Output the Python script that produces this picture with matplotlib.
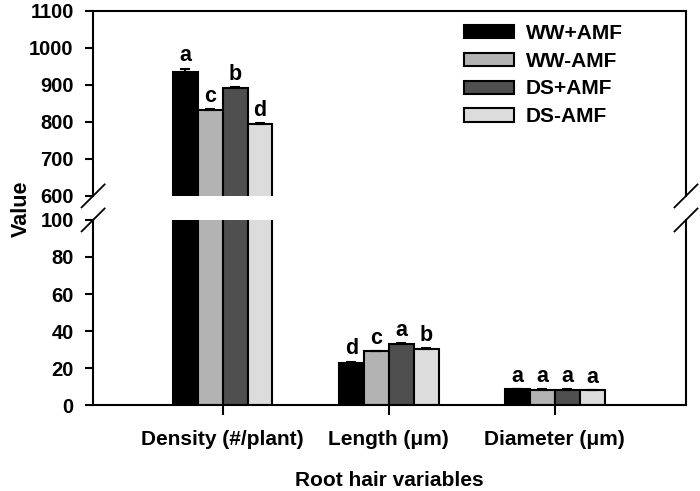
import numpy as np
import matplotlib.pyplot as plt
from matplotlib.patches import Patch

plt.rcParams['font.family'] = ['Liberation Sans', 'DejaVu Sans']
plt.rcParams['font.weight'] = 'bold'

# dados
categorias = ["Density (#/plant)", "Length (\u03bcm)", "Diameter (\u03bcm)"]
tratamentos = ["WW+AMF", "WW-AMF", "DS+AMF", "DS-AMF"]
cores = ["#000000", "#b3b3b3", "#4f4f4f", "#dcdcdc"]

ww_amf = [935, 23, 8.6]
ww_namf = [831, 29, 8.2]
ds_amf = [891, 33, 8.2]
ds_namf = [793, 30.5, 8.0]

ww_amf_err = [9, 0.5, 0.3]
ww_namf_err = [4, 0.4, 0.3]
ds_amf_err = [4, 0.4, 0.3]
ds_namf_err = [3, 0.4, 0.3]

letras = [["a", "d", "a"], ["c", "c", "a"], ["b", "a", "a"], ["d", "b", "a"]]

valores = [ww_amf, ww_namf, ds_amf, ds_namf]
erros = [ww_amf_err, ww_namf_err, ds_amf_err, ds_namf_err]

fig = plt.figure(figsize=(7, 4.91), dpi=100)
ax_top = fig.add_axes([0.133, 0.601, 0.847, 0.377])
ax_bot = fig.add_axes([0.133, 0.175, 0.847, 0.377])

x = np.arange(len(categorias))
largura = 0.15

for ax in (ax_top, ax_bot):
    for i, (vals, errs) in enumerate(zip(valores, erros)):
        pos = x + (i - 1.5) * largura
        ax.bar(pos, vals, largura, color=cores[i], edgecolor="black",
               linewidth=1.5, label=tratamentos[i], zorder=2)
        ax.errorbar(pos, vals, yerr=[np.zeros(len(errs)), errs], fmt="none",
                    ecolor="black", elinewidth=1.5, capsize=3.5, capthick=1.5, zorder=3)
    ax.set_xlim(-0.78, 2.79)
    for s in ax.spines.values():
        s.set_linewidth(1.5)
    ax.tick_params(axis="y", direction="out", length=6, width=1.5, labelsize=14.5,
                   right=False, pad=8)

ax_top.set_ylim(600, 1100)
ax_top.set_yticks(np.arange(600, 1101, 100))
ax_top.spines["bottom"].set_visible(False)
ax_top.tick_params(axis="x", bottom=False, labelbottom=False)

ax_bot.set_ylim(0, 100)
ax_bot.set_yticks(np.arange(0, 101, 20))
ax_bot.spines["top"].set_visible(False)
ax_bot.set_xticks(x)
ax_bot.set_xticklabels(categorias, fontsize=15, fontweight="bold")
ax_bot.tick_params(axis="x", direction="out", length=7, width=1.5, pad=11)

for lab in ax_top.get_yticklabels() + ax_bot.get_yticklabels():
    lab.set_fontweight("bold")

# letras de significancia
for i, (vals, errs) in enumerate(zip(valores, erros)):
    for j in range(len(categorias)):
        pos = x[j] + (i - 1.5) * largura
        ax = ax_top if vals[j] > 100 else ax_bot
        ax.annotate(letras[i][j], (pos, vals[j] + errs[j]), xytext=(0, 1.5),
                    textcoords="offset points", ha="center", va="bottom",
                    fontsize=15.5, fontweight="bold")

# marcas de quebra do eixo
dx, dy = 0.0194, 0.062
for xx in (0, 1):
    ax_top.plot([xx - dx, xx + dx], [-dy, dy], transform=ax_top.transAxes,
                color="black", lw=1.3, clip_on=False)
    ax_bot.plot([xx - dx, xx + dx], [1 - dy, 1 + dy], transform=ax_bot.transAxes,
                color="black", lw=1.3, clip_on=False)

handles = [Patch(facecolor=c, edgecolor="black", linewidth=1.5) for c in cores]
ax_top.legend(handles, tratamentos, loc="upper left", bbox_to_anchor=(0.608, 0.985),
              frameon=False, fontsize=15, handlelength=2.4, handleheight=0.6,
              labelspacing=0.42, borderpad=0, handletextpad=0.58)

fig.text(0.03, 0.575, "Value", rotation=90, ha="center", va="center",
         fontsize=15.5, fontweight="bold")
fig.text(0.556, 0.022, "Root hair variables", ha="center", va="center",
         fontsize=15, fontweight="bold")

plt.savefig("out.png", dpi=100)
plt.close()
